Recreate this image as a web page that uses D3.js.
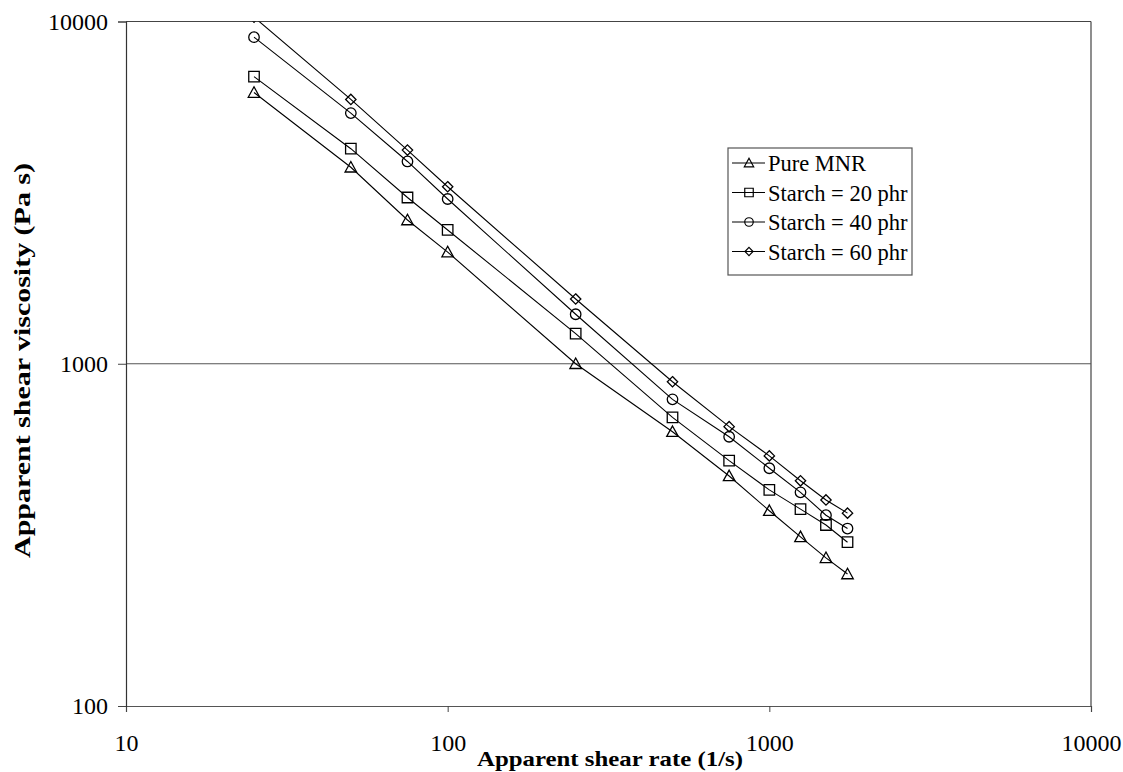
<!DOCTYPE html>
<html>
<head>
<meta charset="utf-8">
<script src="https://cdn.jsdelivr.net/npm/d3@7"></script>
<style>
  html, body { margin: 0; padding: 0; background: #fff; }
  svg { display: block; }
  text { font-family: "Liberation Serif", "Times New Roman", serif; fill: #000; }
</style>
</head>
<body>
<svg id="chart" width="1123" height="772"></svg>
<script>
// Apparent shear rate (1/s)
const shearRate = [25, 50, 75, 100, 250, 500, 750, 1000, 1250, 1500, 1750];

// Apparent shear viscosity (Pa s) for each compound
const pureMNR   = [6200, 3750, 2630, 2120, 1000, 633, 470, 372, 312, 271, 243];
const starch20  = [6900, 4250, 3060, 2460, 1225, 697, 521, 428, 376, 338, 301];
const starch40  = [9000, 5400, 3900, 3030, 1395, 787, 612, 495, 421, 361, 330];
const starch60  = [10300, 5920, 4210, 3290, 1546, 886, 655, 538, 455, 400, 366];

const seriesNames = ["Pure MNR", "Starch = 20 phr", "Starch = 40 phr", "Starch = 60 phr"];
const seriesSymbols = ["triangle", "square", "circle", "diamond"];

const xTicks = [10, 100, 1000, 10000];
const yTicks = [100, 1000, 10000];

const svg = d3.select("#chart");
const plotLeft = 126, plotRight = 1091, plotTop = 21.5, plotBottom = 706;

const x = d3.scaleLog().domain([10, 10000]).range([plotLeft, plotRight]);
const y = d3.scaleLog().domain([100, 10000]).range([plotBottom, plotTop]);

// plot frame: top and right borders
svg.append("line").attr("x1", plotLeft).attr("x2", plotRight).attr("y1", plotTop).attr("y2", plotTop)
  .attr("stroke", "#444").attr("stroke-width", 1.2);
svg.append("line").attr("x1", plotRight).attr("x2", plotRight).attr("y1", plotTop).attr("y2", plotBottom)
  .attr("stroke", "#444").attr("stroke-width", 1.2);

// horizontal gridline at 1000
svg.append("line").attr("x1", plotLeft).attr("x2", plotRight).attr("y1", y(1000)).attr("y2", y(1000))
  .attr("stroke", "#555").attr("stroke-width", 1.2);

// axes
const xAxis = d3.axisBottom(x).tickValues(xTicks).tickFormat(d3.format("d")).tickSize(6).tickPadding(22);
const yAxis = d3.axisLeft(y).tickValues(yTicks).tickFormat(d3.format("d")).tickSize(8).tickPadding(10);

const gx = svg.append("g").attr("transform", `translate(0,${plotBottom})`).call(xAxis);
const gy = svg.append("g").attr("transform", `translate(${plotLeft},0)`).call(yAxis);

[gx, gy].forEach(g => {
  g.select(".domain").attr("stroke", "#555").attr("stroke-width", 1.2);
  g.selectAll(".tick line").attr("stroke", "#444");
  g.selectAll(".tick text")
    .style("font-family", '"Liberation Serif", "Times New Roman", serif')
    .style("font-size", "24px").attr("fill", "#000");
});
gy.select(".domain").attr("stroke", "#333");

// axis titles
svg.append("text")
  .attr("x", 477).attr("y", 766)
  .attr("textLength", 266).attr("lengthAdjust", "spacingAndGlyphs")
  .style("font-size", "22px").style("font-weight", "bold")
  .text("Apparent shear rate (1/s)");

svg.append("text")
  .attr("transform", "translate(30,558) rotate(-90)")
  .attr("textLength", 395).attr("lengthAdjust", "spacingAndGlyphs")
  .style("font-size", "23px").style("font-weight", "bold")
  .text("Apparent shear viscosity (Pa s)");

// clip region for the data
svg.append("clipPath").attr("id", "plotClip")
  .append("rect").attr("x", plotLeft).attr("y", plotTop)
  .attr("width", plotRight - plotLeft).attr("height", plotBottom - plotTop);

const symbolPath = (kind, size) => {
  const s = size;
  if (kind === "triangle") return `M0,${-s*0.55}L${s*0.55},${s*0.45}L${-s*0.55},${s*0.45}Z`;
  if (kind === "square") return `M${-s/2},${-s/2}h${s}v${s}h${-s}Z`;
  if (kind === "circle") { const r = s / 2; return `M${r},0A${r},${r} 0 1,1 ${-r},0A${r},${r} 0 1,1 ${r},0Z`; }
  if (kind === "diamond") { const r = s * 0.45; return `M0,${-r}L${r},0L0,${r}L${-r},0Z`; }
};

const allSeries = [pureMNR, starch20, starch40, starch60];
const line = d3.line().x(d => x(d[0])).y(d => y(d[1]));

const plot = svg.append("g").attr("clip-path", "url(#plotClip)");
allSeries.forEach((vals, i) => {
  const pts = shearRate.map((r, j) => [r, vals[j]]);
  plot.append("path").datum(pts)
    .attr("d", line).attr("fill", "none").attr("stroke", "#000").attr("stroke-width", 1.1);
  plot.selectAll(null).data(pts).join("path")
    .attr("transform", d => `translate(${x(d[0])},${y(d[1])})`)
    .attr("d", symbolPath(seriesSymbols[i], i === 3 ? 11.5 : 10.5))
    .attr("fill", "none").attr("stroke", "#000").attr("stroke-width", 1.3);
});

// legend
const lg = svg.append("g");
lg.append("rect").attr("x", 728).attr("y", 148).attr("width", 184).attr("height", 127)
  .attr("fill", "#fff").attr("stroke", "#555").attr("stroke-width", 1.2);
seriesNames.forEach((name, i) => {
  const cy = 163 + i * 29.5;
  lg.append("line").attr("x1", 732).attr("x2", 765).attr("y1", cy).attr("y2", cy)
    .attr("stroke", "#000").attr("stroke-width", 1.1);
  lg.append("path").attr("transform", `translate(749,${cy})`)
    .attr("d", symbolPath(seriesSymbols[i], i === 3 ? 9 : 8.5))
    .attr("fill", "none").attr("stroke", "#000").attr("stroke-width", 1.2);
  lg.append("text").attr("x", 768).attr("y", cy + 8)
    .style("font-size", "22.5px").text(name);
});
</script>
</body>
</html>
